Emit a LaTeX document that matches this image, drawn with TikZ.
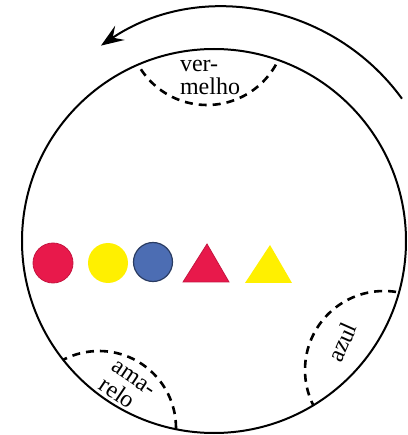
\documentclass[tikz,border=0pt]{standalone}
\usepackage{fontspec}
\setmainfont{Liberation Serif}
\usetikzlibrary{arrows.meta}
\definecolor{vermelho}{HTML}{E8194B}
\definecolor{amarelo}{HTML}{FFF000}
\definecolor{azul}{HTML}{4C6DB3}

\begin{document}
\begin{tikzpicture}[x=0.5pt, y=0.5pt, >={Stealth[length=4mm, width=3mm, inset=1.5mm]},
  setor/.style={line width=1.3pt, dash pattern=on 4pt off 3pt},
  rotulo/.style={font=\fontsize{12}{11.5}\selectfont, align=left, inner sep=0pt}]
\useasboundingbox (0,0) rectangle (408,435);
\coordinate (centro) at (214,194);
\draw[line width=1pt] (centro) circle (192);
\begin{scope}
\clip (centro) circle (192);
\draw[setor] (207,409) circle (79);
\draw[setor] (384,65) circle (79);
\draw[setor] (99,7) circle (77);
\end{scope}
\draw[->, line width=1pt] (224,207) ++(36:220) arc (36:124:220);
\node[rotulo] (verm) at (210,358) {ver-\\melho};
\node[rotulo, rotate=66] (azl) at (342,93) {azul};
\node[rotulo, rotate=-34] (amar) at (127,47) {ama-\\relo};
\filldraw[fill=vermelho, draw=vermelho!85!black, line width=0.4pt] (53,172) circle (20);
\fill[amarelo] (108,172) circle (20);
\filldraw[fill=azul, draw=azul!55!black, line width=0.6pt] (153,173) circle (19.5);
\filldraw[fill=vermelho, draw=vermelho!85!black, line width=0.4pt] (183,153) -- (229,153) -- (207,191) -- cycle;
\fill[amarelo] (245,152) -- (292,152) -- (270,190) -- cycle;
\end{tikzpicture}
\end{document}
